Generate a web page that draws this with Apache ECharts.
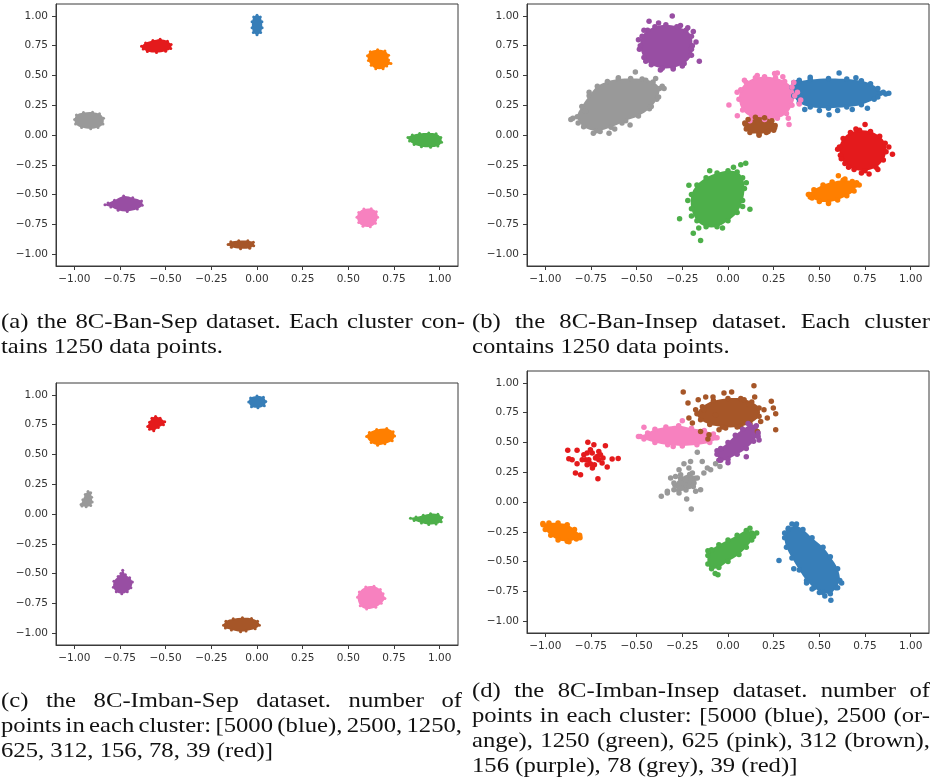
<!DOCTYPE html>
<html>
<head>
<meta charset="utf-8">
<script src="https://cdn.jsdelivr.net/npm/echarts@6/dist/echarts.min.js"></script>
<style>
  html, body { margin: 0; padding: 0; background: #fff; }
  #chart { width: 935px; height: 780px; }
</style>
</head>
<body>
<div id="chart"></div>
<script>
// ---- axis ticks shared by all four panels ----
const TICKS = [-1, -0.75, -0.5, -0.25, 0, 0.25, 0.5, 0.75, 1];

// ---- cluster colours (plot order: blue, orange, green, pink, brown, purple, grey, red) ----
const COLOR_NAMES = ['blue', 'orange', 'green', 'pink', 'brown', 'purple', 'grey', 'red'];
const COLORS = ['#377eb8', '#ff7f00', '#4daf4a', '#f781bf', '#a65628', '#984ea3', '#999999', '#e41a1c'];

// ===== (a) 8C-Ban-Sep : dense cores (outline of each cluster) =====
const a_blue   = [[0,1.005],[0.018,0.99],[0.027,0.95],[0.028,0.9],[0.02,0.86],[0,0.842],[-0.02,0.86],[-0.027,0.9],[-0.027,0.95],[-0.018,0.99]];
const a_orange = [[0.605,0.665],[0.62,0.7],[0.66,0.715],[0.7,0.705],[0.72,0.67],[0.72,0.63],[0.733,0.6],[0.71,0.58],[0.69,0.557],[0.65,0.557],[0.625,0.585],[0.61,0.625]];
const a_green  = [[0.826,-0.02],[0.85,0.0],[0.89,0.012],[0.94,0.016],[0.98,0.01],[1.006,-0.02],[1.01,-0.06],[0.99,-0.093],[0.95,-0.103],[0.9,-0.098],[0.86,-0.08],[0.835,-0.05]];
const a_pink   = [[0.547,-0.69],[0.557,-0.65],[0.585,-0.622],[0.625,-0.62],[0.653,-0.645],[0.66,-0.69],[0.648,-0.74],[0.62,-0.77],[0.58,-0.766],[0.557,-0.735]];
const a_brown  = [[-0.158,-0.92],[-0.143,-0.897],[-0.1,-0.888],[-0.05,-0.888],[-0.02,-0.9],[-0.018,-0.93],[-0.04,-0.95],[-0.09,-0.955],[-0.14,-0.943]];
const a_purple = [[-0.832,-0.585],[-0.815,-0.57],[-0.78,-0.548],[-0.73,-0.513],[-0.68,-0.527],[-0.632,-0.555],[-0.628,-0.59],[-0.655,-0.622],[-0.71,-0.642],[-0.76,-0.632],[-0.8,-0.605]];
const a_grey   = [[-0.998,0.13],[-0.988,0.167],[-0.95,0.188],[-0.9,0.192],[-0.862,0.178],[-0.84,0.14],[-0.843,0.092],[-0.87,0.062],[-0.91,0.052],[-0.96,0.062],[-0.993,0.092]];
const a_red    = [[-0.632,0.745],[-0.61,0.773],[-0.57,0.793],[-0.53,0.803],[-0.49,0.788],[-0.47,0.76],[-0.472,0.727],[-0.5,0.703],[-0.55,0.692],[-0.6,0.702],[-0.623,0.722]];

// ===== (b) 8C-Ban-Insep : dense cores and loose points =====
const b_blue   = [[0.35,0.4],[0.38,0.44],[0.45,0.465],[0.55,0.475],[0.65,0.47],[0.73,0.455],[0.78,0.43],[0.82,0.39],[0.835,0.35],[0.8,0.3],[0.73,0.255],[0.65,0.235],[0.55,0.225],[0.45,0.235],[0.39,0.27],[0.36,0.33]];
const b_blue_pts = [[0.608,0.52],[0.553,0.17],[0.863,0.344],[0.85,0.36],[0.763,0.225],[0.5,0.205],[0.42,0.215],[0.36,0.44],[0.7,0.48],[0.82,0.32],[0.45,0.485],[0.6,0.205],[0.68,0.215],[0.39,0.46],[0.88,0.35]];
const b_orange = [[0.445,-0.5],[0.47,-0.46],[0.52,-0.42],[0.57,-0.395],[0.63,-0.38],[0.68,-0.39],[0.7,-0.42],[0.69,-0.47],[0.65,-0.51],[0.6,-0.545],[0.55,-0.562],[0.5,-0.558],[0.46,-0.53]];
const b_orange_pts = [[0.604,-0.343],[0.704,-0.4],[0.718,-0.42],[0.55,-0.575],[0.45,-0.52],[0.64,-0.37],[0.44,-0.5]];
const b_green  = [[-0.2,-0.5],[-0.17,-0.42],[-0.12,-0.36],[-0.06,-0.32],[0.0,-0.3],[0.05,-0.31],[0.08,-0.36],[0.09,-0.45],[0.08,-0.55],[0.05,-0.65],[0.0,-0.72],[-0.06,-0.77],[-0.12,-0.77],[-0.17,-0.72],[-0.2,-0.62]];
const b_green_pts = [[-0.265,-0.704],[-0.214,-0.422],[-0.19,-0.824],[-0.15,-0.885],[0.097,-0.237],[0.12,-0.623],[0.07,-0.25],[-0.1,-0.3],[0.1,-0.4],[0.08,-0.6],[-0.03,-0.78],[-0.16,-0.78],[-0.22,-0.55],[-0.2,-0.68],[0.03,-0.27]];
const b_pink   = [[0.06,0.3],[0.07,0.38],[0.1,0.44],[0.15,0.48],[0.2,0.49],[0.26,0.48],[0.31,0.45],[0.35,0.4],[0.365,0.33],[0.35,0.25],[0.32,0.18],[0.27,0.14],[0.2,0.13],[0.13,0.15],[0.08,0.21]];
const b_pink_pts = [[0.005,0.251],[0.051,0.162],[0.255,0.517],[0.27,0.52],[0.334,0.089],[0.398,0.293],[0.39,0.26],[0.05,0.36],[0.09,0.46],[0.16,0.5],[0.3,0.49],[0.36,0.44],[0.38,0.36],[0.33,0.14],[0.12,0.12]];
const b_brown  = [[0.095,0.09],[0.11,0.13],[0.15,0.15],[0.2,0.145],[0.24,0.12],[0.258,0.08],[0.25,0.04],[0.21,0.02],[0.17,0.008],[0.12,0.02],[0.1,0.05]];
const b_brown_pts = [[0.17,-0.003],[0.255,0.06],[0.092,0.1],[0.22,0.03]];
const b_purple = [[-0.48,0.75],[-0.47,0.83],[-0.44,0.88],[-0.4,0.91],[-0.34,0.925],[-0.28,0.91],[-0.23,0.88],[-0.2,0.83],[-0.195,0.75],[-0.2,0.67],[-0.24,0.6],[-0.3,0.565],[-0.36,0.56],[-0.42,0.59],[-0.46,0.65]];
const b_purple_pts = [[-0.432,0.955],[-0.305,1.0],[-0.157,0.62],[-0.19,0.87],[-0.175,0.78],[-0.22,0.9],[-0.38,0.94],[-0.46,0.88],[-0.49,0.8],[-0.485,0.72],[-0.45,0.62],[-0.37,0.545],[-0.3,0.555],[-0.25,0.58],[-0.2,0.72],[-0.26,0.92]];
const b_grey   = [[-0.825,0.154],[-0.8,0.24],[-0.76,0.33],[-0.715,0.41],[-0.66,0.45],[-0.6,0.47],[-0.533,0.475],[-0.47,0.47],[-0.41,0.445],[-0.375,0.39],[-0.39,0.3],[-0.43,0.22],[-0.49,0.16],[-0.56,0.12],[-0.64,0.065],[-0.72,0.035],[-0.79,0.07]];
const b_grey_pts = [[-0.849,0.14],[-0.737,0.014],[-0.651,0.014],[-0.507,0.528],[-0.396,0.475],[-0.36,0.41],[-0.536,0.084],[-0.7,0.03],[-0.78,0.2],[-0.82,0.1],[-0.6,0.48],[-0.42,0.24],[-0.38,0.32],[-0.62,0.05],[-0.45,0.46],[-0.76,0.36],[-0.86,0.13],[-0.35,0.39],[-0.58,0.1]];
const b_red    = [[0.61,-0.1],[0.63,-0.03],[0.67,0.02],[0.72,0.04],[0.78,0.03],[0.83,-0.01],[0.86,-0.07],[0.865,-0.14],[0.85,-0.21],[0.81,-0.27],[0.75,-0.3],[0.69,-0.29],[0.64,-0.24],[0.615,-0.17]];
const b_red_pts = [[0.75,0.089],[0.9,-0.162],[0.772,-0.327],[0.73,-0.32],[0.7,0.05],[0.88,-0.1],[0.62,-0.2],[0.6,-0.12],[0.82,-0.29],[0.66,-0.27]];

// ===== (c) 8C-Imban-Sep : dense cores =====
const c_blue   = [[-0.045,0.94],[-0.035,0.975],[0,0.99],[0.035,0.98],[0.048,0.945],[0.04,0.91],[0.005,0.892],[-0.03,0.9]];
const c_orange = [[0.6,0.65],[0.615,0.685],[0.655,0.71],[0.71,0.717],[0.745,0.69],[0.753,0.655],[0.74,0.615],[0.7,0.59],[0.66,0.578],[0.625,0.6]];
const c_green  = [[0.84,-0.035],[0.87,-0.025],[0.91,-0.01],[0.95,0.003],[0.99,-0.002],[1.012,-0.03],[1.008,-0.065],[0.98,-0.085],[0.94,-0.088],[0.9,-0.075],[0.86,-0.055]];
const c_pink   = [[0.55,-0.7],[0.56,-0.655],[0.595,-0.612],[0.64,-0.607],[0.675,-0.635],[0.69,-0.67],[0.7,-0.71],[0.68,-0.75],[0.65,-0.783],[0.6,-0.798],[0.565,-0.77]];
const c_brown  = [[-0.183,-0.935],[-0.17,-0.9],[-0.13,-0.88],[-0.08,-0.872],[-0.03,-0.877],[0.003,-0.9],[0.013,-0.935],[-0.01,-0.963],[-0.06,-0.982],[-0.09,-0.988],[-0.14,-0.973],[-0.173,-0.958]];
const c_purple = [[-0.735,-0.472],[-0.72,-0.51],[-0.697,-0.535],[-0.682,-0.57],[-0.69,-0.62],[-0.71,-0.653],[-0.74,-0.67],[-0.77,-0.653],[-0.786,-0.615],[-0.783,-0.565],[-0.76,-0.525],[-0.745,-0.5]];
const c_grey   = [[-0.963,0.08],[-0.953,0.12],[-0.94,0.163],[-0.925,0.188],[-0.91,0.178],[-0.905,0.14],[-0.902,0.1],[-0.91,0.072],[-0.935,0.06],[-0.958,0.067]];
const c_red    = [[-0.598,0.735],[-0.588,0.77],[-0.575,0.803],[-0.555,0.818],[-0.53,0.805],[-0.505,0.775],[-0.512,0.75],[-0.54,0.727],[-0.565,0.7],[-0.588,0.712]];

// ===== (d) 8C-Imban-Insep : dense cores and loose points =====
const d_blue   = [[0.31,-0.3],[0.33,-0.23],[0.37,-0.2],[0.41,-0.23],[0.46,-0.3],[0.52,-0.38],[0.56,-0.46],[0.6,-0.56],[0.612,-0.66],[0.59,-0.72],[0.56,-0.77],[0.52,-0.76],[0.47,-0.72],[0.43,-0.66],[0.39,-0.57],[0.35,-0.47],[0.32,-0.38]];
const d_blue_pts = [[0.279,-0.492],[0.563,-0.825],[0.53,-0.79],[0.6,-0.72],[0.622,-0.68],[0.35,-0.185],[0.375,-0.185],[0.33,-0.22],[0.36,-0.56],[0.43,-0.68],[0.5,-0.76],[0.31,-0.26],[0.46,-0.73]];
const d_orange = [[-1.012,-0.19],[-0.98,-0.177],[-0.93,-0.177],[-0.88,-0.19],[-0.84,-0.23],[-0.812,-0.28],[-0.83,-0.31],[-0.88,-0.33],[-0.93,-0.32],[-0.97,-0.28],[-1.0,-0.23]];
const d_orange_pts = [[-1.013,-0.18],[-0.81,-0.3],[-0.87,-0.333]];
const d_green  = [[-0.11,-0.45],[-0.09,-0.4],[-0.05,-0.36],[0.0,-0.32],[0.05,-0.28],[0.1,-0.24],[0.13,-0.26],[0.13,-0.32],[0.1,-0.38],[0.06,-0.44],[0.0,-0.5],[-0.05,-0.55],[-0.09,-0.56],[-0.11,-0.52]];
const d_green_pts = [[0.157,-0.26],[-0.07,-0.6],[-0.055,-0.61],[0.12,-0.22],[0.14,-0.29],[-0.11,-0.41]];
const d_pink   = [[-0.48,0.55],[-0.44,0.58],[-0.4,0.61],[-0.34,0.63],[-0.27,0.64],[-0.2,0.62],[-0.13,0.6],[-0.08,0.57],[-0.06,0.54],[-0.1,0.5],[-0.17,0.48],[-0.25,0.47],[-0.33,0.48],[-0.4,0.5],[-0.46,0.53]];
const d_pink_pts = [[-0.46,0.627],[-0.25,0.683],[-0.49,0.55],[-0.07,0.54],[-0.3,0.465]];
const d_brown  = [[-0.17,0.74],[-0.14,0.8],[-0.08,0.85],[0.0,0.87],[0.07,0.87],[0.13,0.84],[0.17,0.79],[0.17,0.72],[0.12,0.66],[0.05,0.63],[-0.03,0.63],[-0.1,0.65],[-0.15,0.69]];
const d_brown_pts = [[-0.245,0.923],[-0.219,0.831],[-0.214,0.705],[-0.195,0.663],[-0.15,0.593],[-0.11,0.529],[-0.104,0.565],[-0.163,0.859],[-0.122,0.881],[-0.082,0.881],[0.02,0.923],[0.142,0.976],[0.146,0.881],[0.237,0.845],[0.248,0.789],[0.261,0.741],[0.261,0.607],[0.179,0.677],[0.215,0.705],[0.161,0.593],[0.069,0.635],[-0.022,0.915],[0.088,0.859],[-0.049,0.607],[-0.132,0.775],[-0.177,0.775],[0.197,0.775],[0.115,0.817],[-0.013,0.621],[-0.068,0.733]];
const d_purple = [[-0.06,0.4],[-0.04,0.45],[0.0,0.5],[0.04,0.56],[0.08,0.61],[0.12,0.645],[0.155,0.64],[0.165,0.58],[0.14,0.51],[0.1,0.45],[0.05,0.4],[0.0,0.36],[-0.04,0.35]];
const d_purple_pts = [[-0.05,0.35],[0.0,0.33],[0.1,0.38],[0.165,0.55],[0.17,0.52],[-0.06,0.43],[0.11,0.66]];
const d_grey   = [[-0.29,0.14],[-0.26,0.2],[-0.21,0.23],[-0.18,0.2],[-0.19,0.13],[-0.23,0.1],[-0.27,0.1]];
const d_grey_pts = [[-0.365,0.048],[-0.332,0.09],[-0.314,0.201],[-0.287,0.215],[-0.268,0.271],[-0.241,0.322],[-0.205,0.341],[-0.168,0.417],[-0.141,0.341],[-0.113,0.285],[-0.068,0.322],[-0.044,0.299],[-0.15,0.103],[-0.201,-0.059],[-0.226,0.025],[-0.268,0.076],[-0.296,0.103],[-0.214,0.131],[-0.186,0.159],[-0.256,0.117],[-0.232,0.187],[-0.195,0.243],[-0.132,0.243],[-0.095,0.271],[-0.259,0.229],[-0.296,0.159],[-0.332,0.076],[-0.177,0.09],[-0.214,0.285],[-0.168,0.201]];
const d_red_pts = [[-0.877,0.434],[-0.871,0.364],[-0.826,0.434],[-0.826,0.322],[-0.835,0.243],[-0.807,0.229],[-0.789,0.397],[-0.767,0.501],[-0.762,0.355],[-0.753,0.322],[-0.743,0.411],[-0.734,0.48],[-0.725,0.369],[-0.707,0.425],[-0.707,0.355],[-0.698,0.397],[-0.689,0.327],[-0.671,0.473],[-0.661,0.294],[-0.712,0.196],[-0.634,0.361],[-0.601,0.366],[-0.771,0.313],[-0.78,0.355],[-0.731,0.313],[-0.716,0.383],[-0.753,0.439],[-0.798,0.355],[-0.684,0.369],[-0.853,0.355],[-0.771,0.411],[-0.742,0.285]];

// ---- captions ----
const CAP_A = ['(a) the 8C-Ban-Sep dataset. Each cluster con-', 'tains 1250 data points.'];
const CAP_B = ['(b) the 8C-Ban-Insep dataset. Each cluster', 'contains 1250 data points.'];
const CAP_C = ['(c) the 8C-Imban-Sep dataset. number of', 'points in each cluster: [5000 (blue), 2500, 1250,', '625, 312, 156, 78, 39 (red)]'];
const CAP_D = ['(d) the 8C-Imban-Insep dataset. number of', 'points in each cluster: [5000 (blue), 2500 (or-', 'ange), 1250 (green), 625 (pink), 312 (brown),', '156 (purple), 78 (grey), 39 (red)]'];

// ---- panel layout ----
const PANELS = [
  { grid: { left: 56,  top: 4,   width: 402, height: 262 }, dot: 3,
    cores: [a_blue, a_orange, a_green, a_pink, a_brown, a_purple, a_grey, a_red],
    loose: [[], [], [], [], [], [], [], []] },
  { grid: { left: 527, top: 4,   width: 402, height: 262 }, dot: 5.5,
    cores: [b_blue, b_orange, b_green, b_pink, b_brown, b_purple, b_grey, b_red],
    loose: [b_blue_pts, b_orange_pts, b_green_pts, b_pink_pts, b_brown_pts, b_purple_pts, b_grey_pts, b_red_pts] },
  { grid: { left: 56,  top: 383, width: 402, height: 262 }, dot: 3,
    cores: [c_blue, c_orange, c_green, c_pink, c_brown, c_purple, c_grey, c_red],
    loose: [[], [], [], [], [], [], [], []] },
  { grid: { left: 527, top: 371, width: 402, height: 262 }, dot: 5.5,
    cores: [d_blue, d_orange, d_green, d_pink, d_brown, d_purple, d_grey, []],
    loose: [d_blue_pts, d_orange_pts, d_green_pts, d_pink_pts, d_brown_pts, d_purple_pts, d_grey_pts, d_red_pts] }
];

const AXIS_COLOR = '#3a3a3a';
const tickFmt = v => v.toFixed(2).replace('-', '\u2212');

const grids = [], xAxes = [], yAxes = [], series = [];
PANELS.forEach((p, gi) => {
  grids.push(Object.assign({ show: true, borderColor: AXIS_COLOR, borderWidth: 1, backgroundColor: '#fff' }, p.grid));
  const common = {
    type: 'value', gridIndex: gi, min: -1.1, max: 1.1,
    splitLine: { show: false },
    axisLine: { show: true, onZero: false, lineStyle: { color: AXIS_COLOR, width: 1 } },
    axisTick: { show: true, customValues: TICKS, length: 4, lineStyle: { color: AXIS_COLOR } },
    axisLabel: { customValues: TICKS, formatter: tickFmt, color: '#333', fontSize: 10.5, fontFamily: 'DejaVu Sans' }
  };
  xAxes.push(Object.assign({}, common, { position: 'bottom', axisLabel: Object.assign({}, common.axisLabel, { margin: 8 }) }));
  yAxes.push(Object.assign({}, common, { position: 'left', axisLabel: Object.assign({}, common.axisLabel, { margin: 8 }) }));

  COLORS.forEach((color, ci) => {
    const core = p.cores[ci];
    const loose = p.loose[ci];
    if (core.length) {
      // filled dense region of the cluster
      series.push({
        type: 'custom', name: COLOR_NAMES[ci], xAxisIndex: gi, yAxisIndex: gi,
        data: core, silent: true, clip: true,
        renderItem: (params, api) => {
          if (params.dataIndex !== 0) return null;
          const pts = core.map(v => api.coord(v));
          return { type: 'polygon', shape: { points: pts, smooth: 0.35 }, style: { fill: color } };
        }
      });
    }
    // individual points on the cluster rim and stragglers
    series.push({
      type: 'scatter', name: COLOR_NAMES[ci], xAxisIndex: gi, yAxisIndex: gi,
      data: core.concat(loose), symbolSize: p.dot, silent: true,
      itemStyle: { color: color, opacity: 1 }
    });
  });
});

// ---- justified caption text ----
const CAP_FONT = 21, CAP_FAMILY = 'Liberation Serif';
const measureCtx = document.createElement('canvas').getContext('2d');
measureCtx.font = CAP_FONT + 'px "' + CAP_FAMILY + '"';
const mw = s => measureCtx.measureText(s).width;
// horizontal glyph stretch so that the short closing line of (a) spans 222px
const CAP_SX = 222 / mw(CAP_A[1]);

const graphics = [];
function caption(lines, x0, x1, bottom0, lead) {
  lines.forEach((line, i) => {
    const words = line.split(' ');
    const widths = words.map(w => mw(w) * CAP_SX);
    const total = widths.reduce((a, b) => a + b, 0);
    const lastLine = i === lines.length - 1;
    const gap = lastLine ? mw(' ') * CAP_SX : (x1 - x0 - total) / (words.length - 1);
    let x = x0;
    const y = bottom0 + i * lead;
    words.forEach((w, k) => {
      graphics.push({
        type: 'text', x: x, y: y, scaleX: CAP_SX, silent: true,
        style: { text: w, fontSize: CAP_FONT, fontFamily: CAP_FAMILY, fill: '#111', align: 'left', verticalAlign: 'bottom' }
      });
      x += widths[k] + gap;
    });
  });
}
caption(CAP_A, 1, 465, 333, 25);
caption(CAP_B, 472, 930, 333, 25);
caption(CAP_C, 1, 462, 711.5, 25.3);
caption(CAP_D, 472, 930, 702, 25);

const chart = echarts.init(document.getElementById('chart'), null, { renderer: 'canvas' });
chart.setOption({
  animation: false,
  backgroundColor: '#fff',
  grid: grids,
  xAxis: xAxes,
  yAxis: yAxes,
  series: series,
  graphic: { elements: graphics }
});
</script>
</body>
</html>
